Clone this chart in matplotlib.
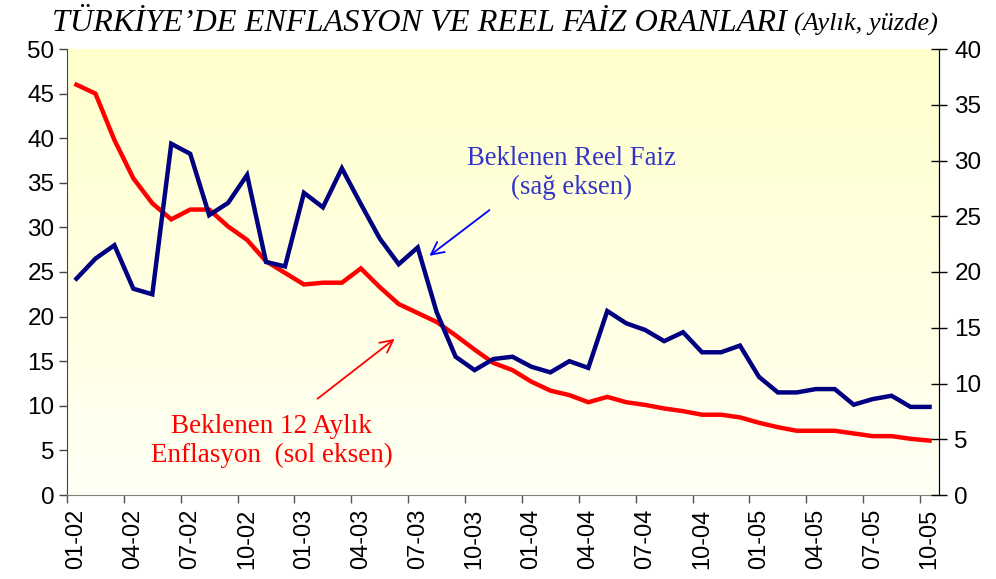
import numpy as np
import pandas as pd
import matplotlib
matplotlib.use("Agg")
import matplotlib.pyplot as plt

# %% Data (monthly, 01-02 .. 10-05)
months = pd.period_range("2002-01", "2005-10", freq="M")
month_labels = [m.strftime("%m-%y") for m in months]

# Expected 12-month inflation (left axis)
inflation = [46.0, 45.0, 39.8, 35.5, 32.7, 30.9, 32.0, 32.0, 30.1, 28.6,
             26.2, 24.9, 23.6, 23.8, 23.8, 25.4, 23.3, 21.4, 20.4, 19.4,
             17.9, 16.3, 14.8, 14.0, 12.7, 11.7, 11.2, 10.4, 11.0, 10.4,
             10.1, 9.7, 9.4, 9.0, 9.0, 8.7, 8.1, 7.6, 7.2, 7.2,
             7.2, 6.9, 6.6, 6.6, 6.3, 6.1]

# Expected real interest rate (right axis)
real_rate = [19.4, 21.2, 22.4, 18.5, 18.0, 31.5, 30.6, 25.1, 26.2, 28.7,
             20.9, 20.5, 27.1, 25.8, 29.3, 26.1, 23.0, 20.7, 22.2, 16.4,
             12.4, 11.2, 12.2, 12.4, 11.5, 11.0, 12.0, 11.4, 16.5, 15.4,
             14.8, 13.8, 14.6, 12.8, 12.8, 13.4, 10.6, 9.2, 9.2, 9.5,
             9.5, 8.1, 8.6, 8.9, 7.9, 7.9]

title_main = "TÜRKİYE’DE ENFLASYON VE REEL FAİZ ORANLARI"
title_sub = "(Aylık, yüzde)"

# %% Styles
serif = "Liberation Serif"
sans = "Liberation Sans"
red = "#ff0000"
navy = "#000080"
label_blue = "#3333cc"

fig = plt.figure(figsize=(9.96, 5.79), dpi=100)
ax = fig.add_axes([67/996, 84/579, 872/996, 446/579])
ax2 = ax.twinx()

x = np.arange(len(months))

# background gradient (light yellow -> almost white)
top = np.array([1.0, 1.0, 0.80])
bot = np.array([1.0, 1.0, 0.96])
grad = np.linspace(0, 1, 256)[:, None, None]
img = top * (1 - grad) + bot * grad
ax.imshow(img, extent=[0, 1, 0, 1], transform=ax.transAxes, aspect="auto",
          zorder=0, interpolation="bilinear")

ax.plot(x, inflation, color=red, lw=3.2, solid_joinstyle="miter", zorder=3)
ax2.plot(x, real_rate, color=navy, lw=3.2, solid_joinstyle="miter", zorder=3)

ax.set_xlim(-0.5, len(months) - 0.5)
ax.set_ylim(0, 50)
ax2.set_ylim(0, 40)
ax.set_yticks(range(0, 51, 5))
ax2.set_yticks(range(0, 41, 5))

# category axis: tick marks between categories, labels every 3 months
ax.set_xticks(np.arange(-0.5, len(months), 3))
ax.set_xticklabels([])
ax.set_xticks(x[::3], minor=True)
ax.set_xticklabels(month_labels[::3], minor=True, rotation=90,
                   fontfamily=sans, fontsize=17)
ax.tick_params(axis="x", which="major", direction="out", length=6, width=1, color="#555555")
ax.tick_params(axis="x", which="minor", length=0, pad=10)
ax.tick_params(axis="y", direction="out", length=6, width=1, pad=3,
               labelsize=17.5, color="#444444")
ax2.tick_params(axis="y", direction="inout", length=12, width=1, pad=5,
                labelsize=17.5)
for lab in ax.get_yticklabels() + ax2.get_yticklabels():
    lab.set_fontfamily(sans)

for a in (ax, ax2):
    a.spines["top"].set_visible(False)
ax.spines["bottom"].set_color("#808080")
ax2.spines["bottom"].set_visible(False)
ax.spines["left"].set_color("#444444")
ax2.spines["left"].set_visible(False)
ax2.spines["right"].set_color("black")

# annotations
ax2.text(26.1, 28.9, "Beklenen Reel Faiz\n(sağ eksen)", ha="center", va="center",
         fontfamily=serif, fontsize=19.3, color=label_blue, linespacing=1.2)
ax2.annotate("", xy=(18.5, 21.3), xytext=(21.9, 25.7),
             arrowprops=dict(arrowstyle="->,head_length=0.9,head_width=0.45",
                             color="#0000ff", lw=1.3))
ax.text(10.3, 6.0, "Beklenen 12 Aylık\nEnflasyon  (sol eksen)", ha="center", va="center",
        fontfamily=serif, fontsize=19.5, color=red, linespacing=1.2)
ax.annotate("", xy=(16.9, 17.7), xytext=(12.6, 10.6),
            arrowprops=dict(arrowstyle="->,head_length=0.9,head_width=0.45",
                            color=red, lw=1.3))

# title
t1 = fig.text(52/996, 1 - 31/579, title_main, fontfamily=serif, style="italic",
              fontsize=23.2, ha="left", va="baseline")
fig.canvas.draw()
bb = t1.get_window_extent()
fig.text((bb.x1 + 7)/996, 1 - 31/579, title_sub, fontfamily=serif, style="italic",
         fontsize=19, ha="left", va="baseline")

plt.savefig("out.png", dpi=100)
